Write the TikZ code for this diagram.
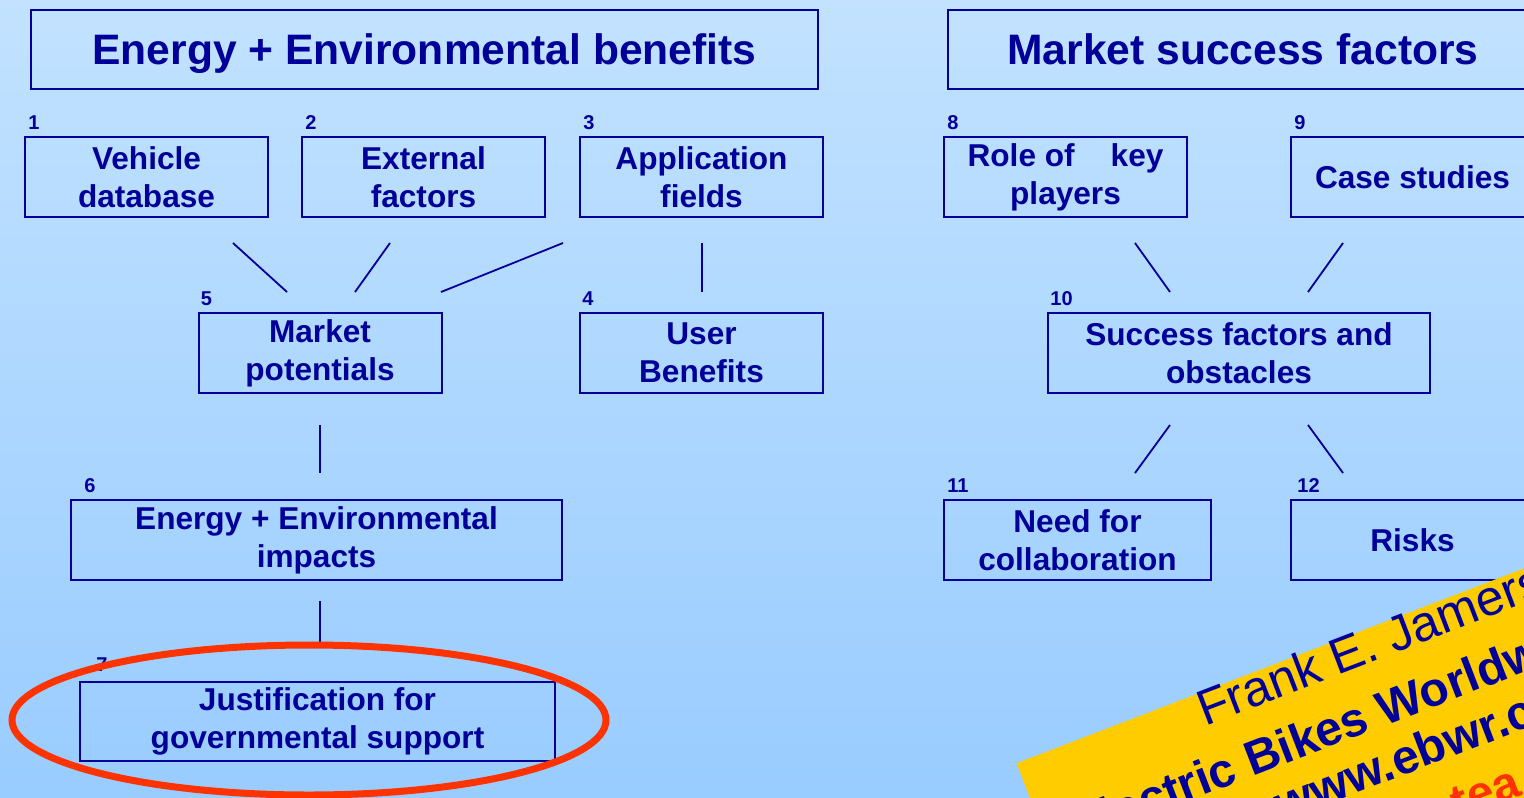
\documentclass[tikz,border=0pt]{standalone}
\usepackage{fontspec}
\setmainfont{Liberation Sans}
\definecolor{boxblue}{HTML}{000099}
\definecolor{bgtop}{HTML}{C2E2FF}
\definecolor{bgbottom}{HTML}{99CCFF}
\definecolor{markred}{HTML}{FF3300}
\definecolor{bannergold}{HTML}{FFCC00}
\tikzset{
  frame/.style={draw=boxblue, line width=1pt, text=boxblue, align=center, inner sep=0pt,
    font=\bfseries\fontsize{15.8}{19}\selectfont},
  smallbox/.style={frame, minimum width=121.5pt, minimum height=40pt},
  headbox/.style={frame, minimum height=39.5pt, text depth=0pt, font=\bfseries\fontsize{21.3}{25}\selectfont},
  num/.style={text=boxblue, inner sep=0pt, anchor=base west, font=\bfseries\fontsize{10}{12}\selectfont},
  link/.style={draw=boxblue, line width=0.9pt},
  bannerline/.style={text=boxblue, inner sep=0pt, anchor=base west, font=\bfseries\fontsize{24}{28}\selectfont},
}
\begin{document}
\begin{tikzpicture}[x=0.5pt,y=-0.5pt]
  \useasboundingbox (0,0) rectangle (1524,797);
  \clip (0,0) rectangle (1524,797);
  \shade[top color=bgtop, bottom color=bgbottom] (0,0) rectangle (1524,797);

  % headings
  \node[headbox, minimum width=393.5pt] (envhead) at (424.5,49.5) {Energy + Environmental benefits};
  \node[headbox, minimum width=295pt] (markethead) at (1243,49.5) {Market success factors};

  % left part
  \node[smallbox] (vehicle) at (146.5,177) {Vehicle\\database};
  \node[smallbox] (external) at (423.5,177) {External\\factors};
  \node[smallbox] (application) at (701.5,177) {Application\\fields};
  \node[smallbox] (potentials) at (320,353) {Market\\potentials};
  \node[smallbox] (benefits) at (701.5,353) {User\\Benefits};
  \node[smallbox, minimum width=245.5pt] (impacts) at (316.5,540) {Energy + Environmental\\impacts};
  \node[smallbox, minimum width=237.5pt, minimum height=39.5pt] (support) at (317.5,721.5) {Justification for\\governmental support};

  % right part
  \node[smallbox] (players) at (1065.5,177) {Role of\hspace{18pt}key\\players};
  \node[smallbox] (cases) at (1412.5,177) {Case studies};
  \node[smallbox, minimum width=191pt] (obstacles) at (1239,353) {Success factors and\\obstacles};
  \node[smallbox, minimum width=133.5pt] (collab) at (1077.5,540) {Need for\\collaboration};
  \node[smallbox] (risks) at (1412.5,540) {Risks};

  % numbers
  \node[num] (n1) at ([xshift=2pt,yshift=3.5pt]vehicle.north west) {1};
  \node[num] (n2) at ([xshift=2pt,yshift=3.5pt]external.north west) {2};
  \node[num] (n3) at ([xshift=2pt,yshift=3.5pt]application.north west) {3};
  \node[num] (n4) at ([xshift=1.5pt,yshift=3.5pt]benefits.north west) {4};
  \node[num] (n5) at ([xshift=1.5pt,yshift=3.5pt]potentials.north west) {5};
  \node[num] (n6) at ([xshift=7pt,yshift=3.5pt]impacts.north west) {6};
  \node[num] (n7) at ([xshift=8.5pt,yshift=5pt]support.north west) {7};
  \node[num] (n8) at ([xshift=2pt,yshift=3.5pt]players.north west) {8};
  \node[num] (n9) at ([xshift=2pt,yshift=3.5pt]cases.north west) {9};
  \node[num] (n10) at ([xshift=1.5pt,yshift=3.5pt]obstacles.north west) {10};
  \node[num] (n11) at ([xshift=2pt,yshift=3.5pt]collab.north west) {11};
  \node[num] (n12) at ([xshift=3.5pt,yshift=3.5pt]risks.north west) {12};

  % connector ends
  \coordinate (vehicle-out) at (233,243);
  \coordinate (external-out) at (390,243);
  \coordinate (application-out) at (563,243);
  \coordinate (application-down) at (702,243);
  \coordinate (potentials-in1) at (287,292);
  \coordinate (potentials-in2) at (355,292);
  \coordinate (potentials-in3) at (441,292);
  \coordinate (benefits-in) at (702,292);
  \coordinate (potentials-out) at (320,425);
  \coordinate (impacts-in) at (320,473);
  \coordinate (impacts-out) at (320,601);
  \coordinate (support-in) at (320,645);
  \coordinate (players-out) at (1135,243);
  \coordinate (cases-out) at (1343,243);
  \coordinate (obstacles-in1) at (1170,292);
  \coordinate (obstacles-in2) at (1308,292);
  \coordinate (obstacles-out1) at (1170,425);
  \coordinate (obstacles-out2) at (1308,425);
  \coordinate (collab-in) at (1135,473);
  \coordinate (risks-in) at (1343,473);
  \begin{scope}[link]
    \draw (vehicle-out) to (potentials-in1);
    \draw (external-out) to (potentials-in2);
    \draw (application-out) to (potentials-in3);
    \draw (application-down) to (benefits-in);
    \draw (potentials-out) to (impacts-in);
    \draw (impacts-out) to (support-in);
    \draw (players-out) to (obstacles-in1);
    \draw (cases-out) to (obstacles-in2);
    \draw (obstacles-out1) to (collab-in);
    \draw (obstacles-out2) to (risks-in);
  \end{scope}

  % highlight
  \draw[markred, line width=3.5pt] (309,720) ellipse [x radius=148.5pt, y radius=37.5pt];

  % banner
  \begin{scope}[shift={(1203,727)}, rotate=21, transform shape]
    \fill[bannergold] (-187,-33) rectangle (900,300);
    \node[bannerline, font=\fontsize{25}{30}\selectfont] (author) at (2,0) {Frank E. Jamerson};
    \node[bannerline] (report) at (-159,64) {Electric Bikes Worldwide Reports};
    \node[bannerline] (site) at (40,117) {www.ebwr.com};
    \node[bannerline, text=markred] (redline) at (205,178) {tea};
  \end{scope}
\end{tikzpicture}
\end{document}
